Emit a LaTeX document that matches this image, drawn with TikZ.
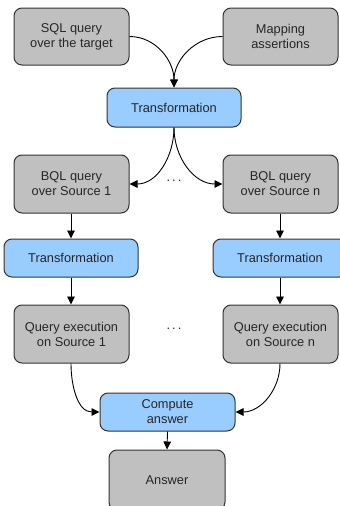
\documentclass[tikz,border=0pt]{standalone}
\usepackage{fontspec}
\setmainfont{Liberation Sans}
\usetikzlibrary{arrows.meta}
\definecolor{boxgray}{HTML}{C0C0C0}
\definecolor{boxblue}{HTML}{99CCFF}
\definecolor{edge}{HTML}{333333}
\tikzset{
  base/.style={draw=edge, line width=1pt, rounded corners=8pt, inner sep=0pt, align=center,
    font=\fontsize{12.8}{15}\selectfont, text=black!85},
  graybox/.style={base, fill=boxgray, minimum width=115pt, minimum height=57pt},
  bluebox/.style={base, fill=boxblue, minimum width=134pt, minimum height=38pt},
  conn/.style={draw=black, line width=0.9pt, -{Triangle[length=8pt,width=7.5pt]}},
  dots/.style={font=\fontsize{12.8}{15}\selectfont, text=black!85}
}
\begin{document}
\begin{tikzpicture}[x=1pt,y=-1pt]
\path[use as bounding box, fill=white] (0,0) rectangle (340,506);
\clip (0,0) rectangle (340,506);
\node[graybox] (sql) at (71.5,36.5) {SQL query\\over the target};
\node[graybox] (map) at (280.5,36.5) {Mapping\\assertions};
\node[bluebox, minimum height=39pt] (t0) at (174,107.5) {Transformation};
\node[graybox, minimum height=58pt] (bq1) at (71.5,184) {BQL query\\over Source 1};
\node[graybox, minimum height=58pt] (bqn) at (280.5,184) {BQL query\\over Source n};
\node[dots] (d1) at (174,181) {.\,.\,.};
\node[bluebox] (t1) at (71,258) {Transformation};
\node[bluebox] (tn) at (280,258) {Transformation};
\node[graybox, minimum height=58pt] (q1) at (71.5,334) {Query execution\\on Source 1};
\node[graybox, minimum height=58pt] (qn) at (280.5,334) {Query execution\\on Source n};
\node[dots] (d2) at (174,329) {.\,.\,.};
\node[bluebox, minimum width=135pt] (ca) at (167.5,412) {Compute\\answer};
\node[graybox, minimum width=116pt, minimum height=60pt] (ans) at (167,480) {Answer};
\draw[conn] (sql.east) to[out=0,in=90] (t0.north);
\draw[conn] (map.west) to[out=180,in=90] (t0.north);
\draw[conn] (t0.south) to[out=-90,in=0] (bq1.east);
\draw[conn] (t0.south) to[out=-90,in=180] (bqn.west);
\draw[conn] (bq1.south -| t1.north) -- (t1.north);
\draw[conn] (bqn.south -| tn.north) -- (tn.north);
\draw[conn] (t1.south) -- (t1.south |- q1.north);
\draw[conn] (tn.south) -- (tn.south |- qn.north);
\draw[conn] (q1.south -| t1.south) to[out=-90,in=180] (ca.west);
\draw[conn] (qn.south -| tn.south) to[out=-90,in=0] (ca.east);
\draw[conn] (ca.south) -- (ans.north);
\end{tikzpicture}
\end{document}
